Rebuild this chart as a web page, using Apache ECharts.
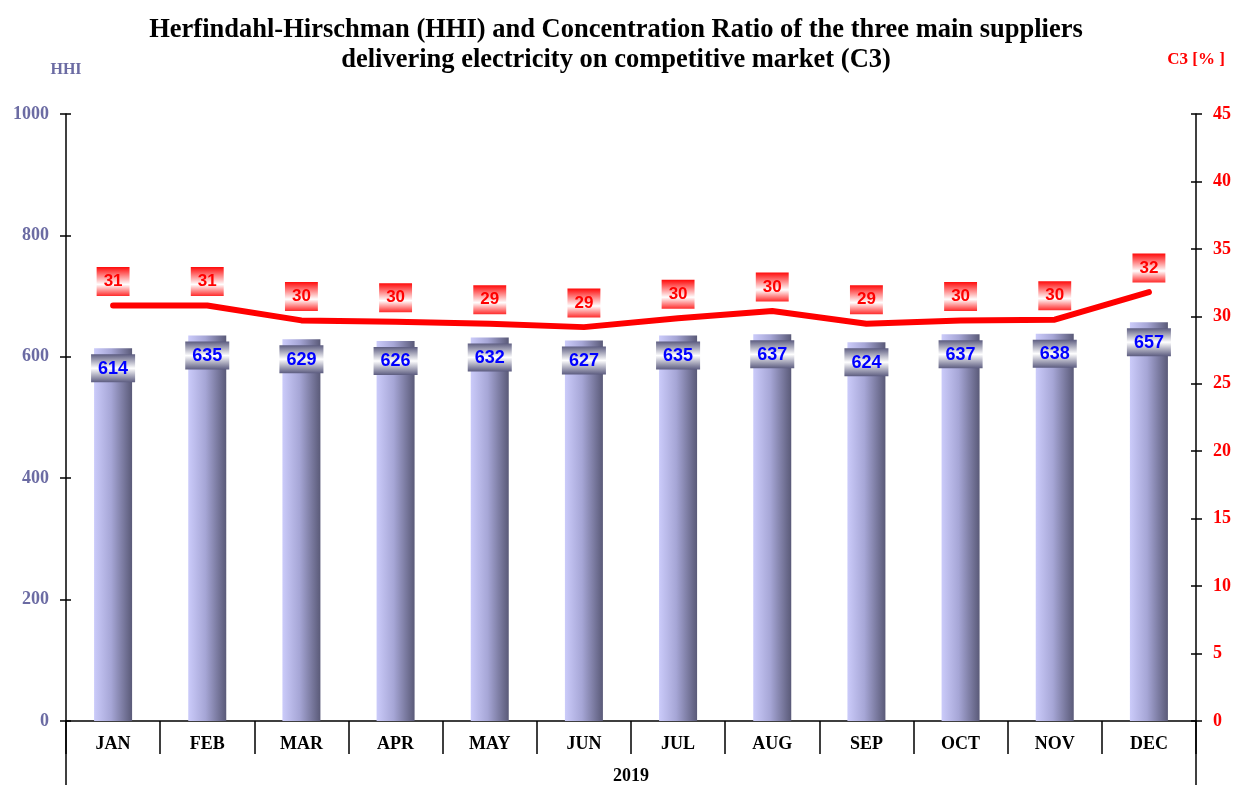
<!DOCTYPE html>
<html>
<head>
<meta charset="utf-8">
<script src="https://cdn.jsdelivr.net/npm/echarts@6/dist/echarts.min.js"></script>
<style>
  html, body { margin: 0; padding: 0; background: #ffffff; overflow: hidden; }
  #chart { width: 1234px; height: 785px; }
</style>
</head>
<body>
<div id="chart"></div>
<script>
// Monthly market concentration indicators, 2019
var months = ['JAN', 'FEB', 'MAR', 'APR', 'MAY', 'JUN', 'JUL', 'AUG', 'SEP', 'OCT', 'NOV', 'DEC'];
var hhiValues = [614, 635, 629, 626, 632, 627, 635, 637, 624, 637, 638, 657];
var c3Values = [30.8, 30.8, 29.7, 29.6, 29.45, 29.2, 29.85, 30.4, 29.45, 29.7, 29.75, 31.8];
var hhiTicks = [0, 200, 400, 600, 800, 1000];
var c3Ticks = [0, 5, 10, 15, 20, 25, 30, 35, 40, 45];

var serif = '"Liberation Serif", "Times New Roman", serif';
var sans = '"Liberation Sans", Arial, sans-serif';
var slate = '#6b6ba3';

var chart = echarts.init(document.getElementById('chart'));

var barFill = new echarts.graphic.LinearGradient(0, 0, 1, 0, [
  { offset: 0, color: '#cbcbfa' },
  { offset: 0.45, color: '#a6a6d6' },
  { offset: 1, color: '#5a5a78' }
]);
var barLabelBg = new echarts.graphic.LinearGradient(0, 0, 0, 1, [
  { offset: 0, color: '#5c5c80' },
  { offset: 0.5, color: '#ffffff' },
  { offset: 1, color: '#5c5c80' }
]);
var lineLabelBg = new echarts.graphic.LinearGradient(0, 0, 0, 1, [
  { offset: 0, color: '#ff0a0a' },
  { offset: 0.6, color: '#ffffff' },
  { offset: 1, color: '#ff2a2a' }
]);

var gridLeft = 66, gridRight = 38, gridTop = 114, gridBottom = 64;
var plain = function (v) { return String(v); };

chart.setOption({
  backgroundColor: '#ffffff',
  animation: false,
  title: {
    text: 'Herfindahl-Hirschman (HHI) and Concentration Ratio of the three main suppliers\ndelivering electricity on competitive market (C3)',
    left: 611,
    top: 10,
    textAlign: 'center',
    textStyle: {
      fontFamily: serif,
      fontWeight: 'bold',
      fontSize: 26.5,
      lineHeight: 30,
      color: '#000000'
    }
  },
  grid: {
    left: gridLeft, right: gridRight, top: gridTop, bottom: gridBottom,
    containLabel: false,
    outerBoundsMode: 'none'
  },
  xAxis: {
    type: 'category',
    data: months,
    boundaryGap: true,
    name: '2019',
    nameLocation: 'middle',
    nameGap: 46,
    nameTextStyle: { fontFamily: serif, fontWeight: 'bold', fontSize: 18, color: '#000000' },
    axisLine: { show: true, onZero: false, lineStyle: { color: '#000000', width: 1.5 } },
    axisTick: { show: true, inside: false, length: 33, alignWithLabel: false, lineStyle: { color: '#000000', width: 1.5 } },
    axisLabel: { margin: 14, fontFamily: serif, fontWeight: 'bold', fontSize: 18, color: '#000000' },
    splitLine: { show: false }
  },
  yAxis: [
    {
      type: 'value',
      position: 'left',
      min: hhiTicks[0],
      max: hhiTicks[hhiTicks.length - 1],
      interval: hhiTicks[1] - hhiTicks[0],
      name: 'HHI',
      nameLocation: 'end',
      nameGap: 36,
      nameTextStyle: { fontFamily: serif, fontWeight: 'bold', fontSize: 16, color: slate },
      axisLine: { show: true, lineStyle: { color: '#000000', width: 1.5 } },
      axisTick: { show: true, inside: false, length: 6, lineStyle: { color: '#000000', width: 1.5 } },
      axisLabel: { margin: 17, formatter: plain, fontFamily: serif, fontWeight: 'bold', fontSize: 18, color: slate },
      splitLine: { show: false }
    },
    {
      type: 'value',
      position: 'right',
      min: c3Ticks[0],
      max: c3Ticks[c3Ticks.length - 1],
      interval: c3Ticks[1] - c3Ticks[0],
      name: 'C3 [% ]',
      nameLocation: 'end',
      nameGap: 46,
      nameTextStyle: { fontFamily: serif, fontWeight: 'bold', fontSize: 17, color: '#ff0000' },
      axisLine: { show: true, lineStyle: { color: '#000000', width: 1.5 } },
      axisTick: { show: true, inside: false, length: 6, lineStyle: { color: '#000000', width: 1.5 } },
      axisLabel: { margin: 17, formatter: plain, fontFamily: serif, fontWeight: 'bold', fontSize: 18, color: '#ff0000' },
      splitLine: { show: false }
    },
    {
      // inner half of the crossing ticks on the HHI axis
      type: 'value',
      position: 'left',
      min: hhiTicks[0],
      max: hhiTicks[hhiTicks.length - 1],
      interval: hhiTicks[1] - hhiTicks[0],
      axisLine: { show: false },
      axisTick: { show: true, inside: true, length: 5, lineStyle: { color: '#000000', width: 1.5 } },
      axisLabel: { show: false },
      splitLine: { show: false }
    },
    {
      // inner half of the crossing ticks on the C3 axis
      type: 'value',
      position: 'right',
      min: c3Ticks[0],
      max: c3Ticks[c3Ticks.length - 1],
      interval: c3Ticks[1] - c3Ticks[0],
      axisLine: { show: false },
      axisTick: { show: true, inside: true, length: 5, lineStyle: { color: '#000000', width: 1.5 } },
      axisLabel: { show: false },
      splitLine: { show: false }
    }
  ],
  series: [
    {
      name: 'HHI',
      type: 'bar',
      yAxisIndex: 0,
      data: hhiValues,
      barWidth: 38,
      itemStyle: { color: barFill },
      label: {
        show: true,
        position: 'insideTop',
        distance: 6,
        fontFamily: sans,
        fontWeight: 'bold',
        fontSize: 18,
        lineHeight: 19,
        color: '#0000ff',
        backgroundColor: barLabelBg,
        padding: [5, 7, 4, 7]
      },
      z: 2
    },
    {
      name: 'C3',
      type: 'line',
      yAxisIndex: 1,
      data: c3Values,
      symbol: 'circle',
      symbolSize: 1,
      itemStyle: { color: '#ff0000' },
      lineStyle: { color: '#ff0000', width: 6, cap: 'round', join: 'round' },
      label: {
        show: true,
        position: 'top',
        distance: 9,
        formatter: function (p) { return Math.round(p.value); },
        fontFamily: sans,
        fontWeight: 'bold',
        fontSize: 17,
        lineHeight: 19,
        color: '#ff0000',
        backgroundColor: lineLabelBg,
        padding: [5, 7, 5, 7]
      },
      z: 3
    }
  ],
  graphic: [
    // the two value axes continue down through the category band
    {
      type: 'line',
      shape: { x1: gridLeft, y1: 785 - gridBottom, x2: gridLeft, y2: 785 },
      style: { stroke: '#000000', lineWidth: 1.5 }
    },
    {
      type: 'line',
      shape: { x1: 1234 - gridRight, y1: 785 - gridBottom, x2: 1234 - gridRight, y2: 785 },
      style: { stroke: '#000000', lineWidth: 1.5 }
    }
  ]
});
</script>
</body>
</html>
